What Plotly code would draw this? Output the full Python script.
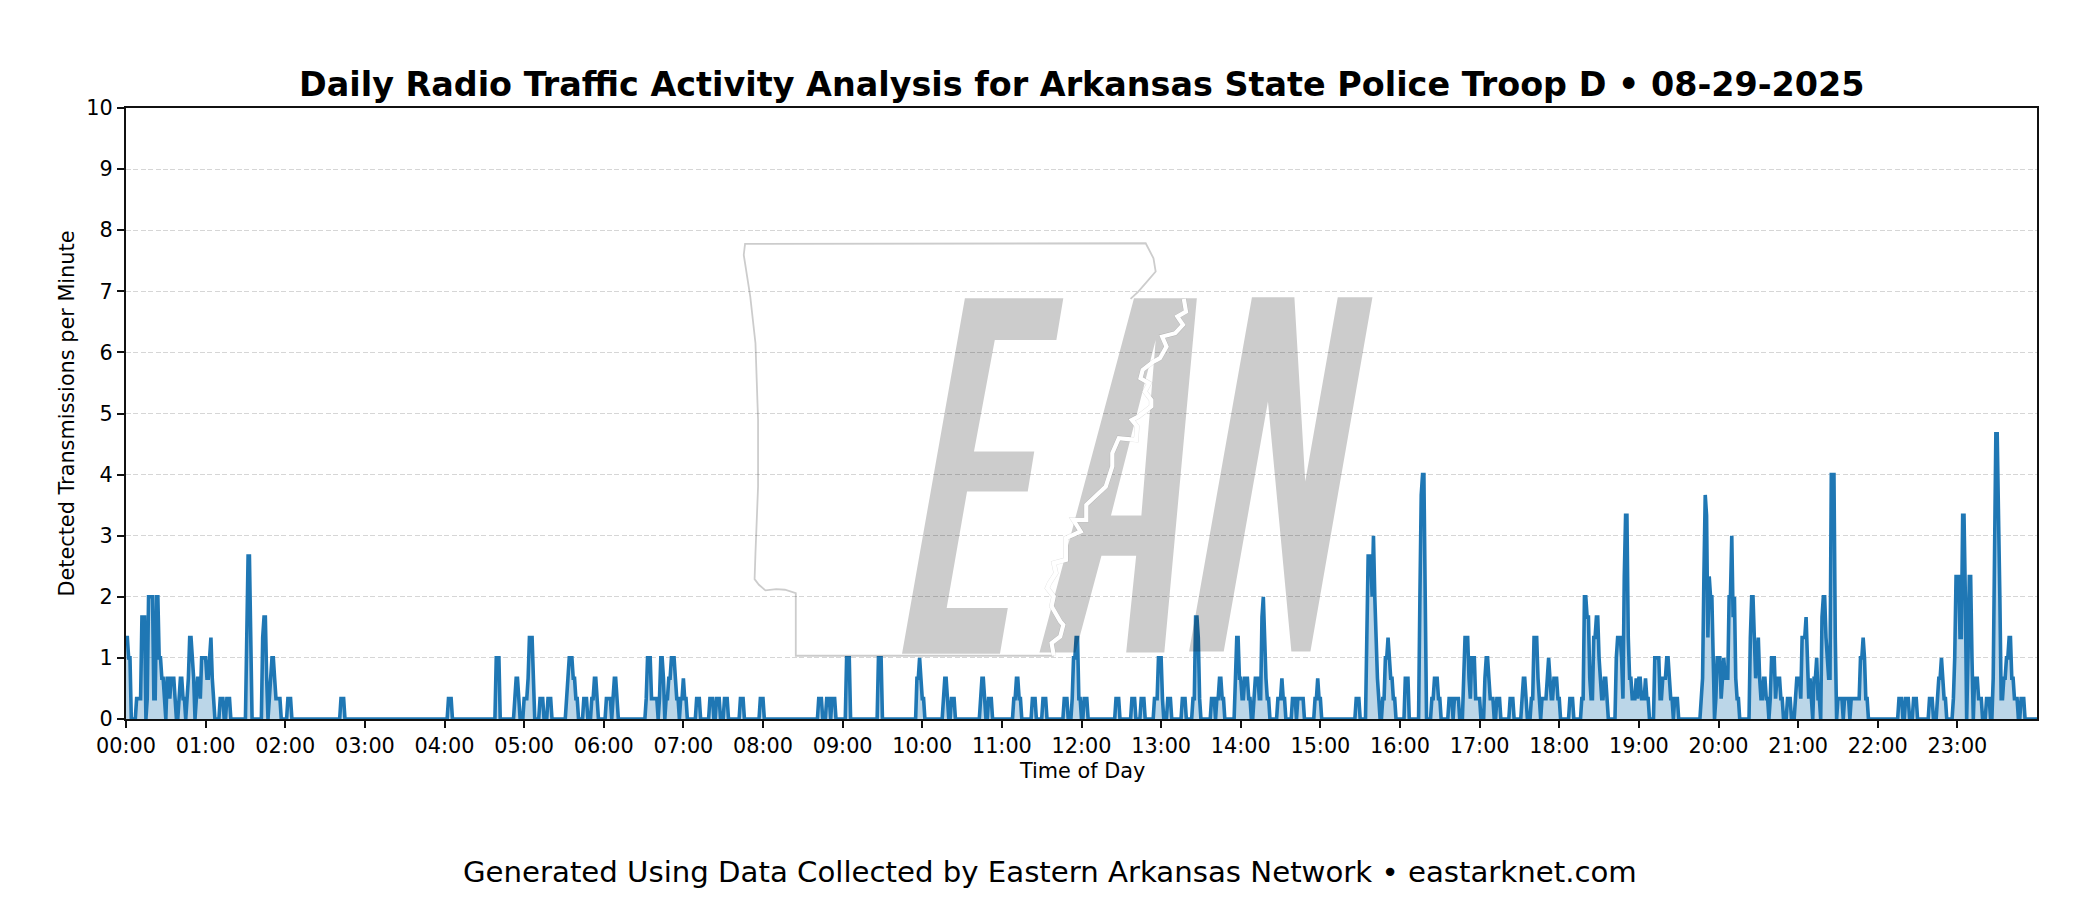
import plotly.graph_objects as go

TITLE = "Daily Radio Traffic Activity Analysis for Arkansas State Police Troop D • 08-29-2025"
FOOTER = "Generated Using Data Collected by Eastern Arkansas Network • eastarknet.com"
X_LABEL = "Time of Day"
Y_LABEL = "Detected Transmissions per Minute"
tick_hours = list(range(24))
y_ticks = list(range(11))

# Active stretches of the day: first minute of each stretch, and the rate during it in thirds of a transmission per minute.
run_start = [0, 8, 16, 31, 40, 46, 53, 71, 76, 91, 103, 108, 122, 162, 243, 279, 293, 300, 312, 318,
             332, 345, 351, 362, 367, 392, 402, 407, 418, 430, 440, 445, 451, 463, 478, 522, 528, 532,
             543, 567, 596, 616, 622, 644, 650, 669, 683, 691, 707, 713, 722, 746, 758, 765, 775, 785,
             796, 804, 818, 822, 836, 850, 868, 879, 883, 896, 927, 935, 947, 964, 975, 984, 997, 1001,
             1008, 1024, 1033, 1043, 1052, 1059, 1067, 1088, 1097, 1123, 1152, 1167, 1187, 1198, 1224,
             1239, 1252, 1258, 1272, 1278, 1290, 1295, 1300, 1336, 1341, 1347, 1359, 1365, 1377, 1388,
             1393, 1402, 1407, 1428]
run_thirds = [
    [4,4,3,3], [1,1,1,1,5,5,5], [1,6,6,6,6,1,1,6,6,3,3,2,2,1], [2,2,1,2,2,2,1], [1,2,2,1,1], [1,2,4,4,3,2],
    [1,2,2,1,3,3,3,3,2,2,3,4,2,1], [1,1,1], [1,1,1], [4,8,8,4], [4,5,5,2], [1,2,3,3,2,1,1,1,1], [1,1,1], [1,1,1],
    [1,1,1], [3,3,3], [1,2,2,1], [1,1,1,2,4,4,4,2], [1,1,1], [1,1,1],
    [1,2,3,3,3,2,2,1,1], [1,1,1], [1,1,2,2,1], [1,1,1,1], [1,2,2,1], [1,3,3,3,1,1,1,1,1], [1,3,3,2],
    [1,1,2,2,3,3,3,2,1,1], [1,1,2,1,1], [1,1,1], [1,1,1], [1,1,1], [1,1,1], [1,1,1], [1,1,1], [1,1,1], [1,1,1], [1,1,1],
    [3,3,3], [3,3,3], [2,2,3,2,1,1], [1,2,2,1], [1,1,1], [1,2,2,1], [1,1,1], [1,1,2,2,1,1], [1,1,1], [1,1,1], [1,1,1],
    [1,3,3,4,4,1,1], [1,1,1], [1,1,1], [1,1,1], [1,1,1], [1,1,1,3,3,3,1], [1,1,1],
    [1,1,1], [1,1,5,5,4,1], [1,1,1], [1,1,2,2,1,1], [2,4,4,2,2,1,1,2,2,2,1,1], [1,2,2,2,1,1,5,6,4,2,1,1],
    [1,1,1,2,1,1], [1,1,1], [1,1,1,1,1], [1,1,2,1,1], [1,1,1], [4,8,8,8,6,9,6,4,2,1], [1,1,3,3,4,3,2,2,1,1],
    [2,2,2], [6,11,12,12,6], [1,1,2,2,2,1,1], [1,1,1], [1,1,1,1],
    [2,4,4,4,2,1,3,3,3,1,1,1,1], [2,3,3,2,1,1,1], [1,1,1], [1,1,1], [1,2,2,1], [1,1,4,4,4,2,1],
    [1,1,1,1,2,3,2,1,1,2,2,2,1,1], [1,1,1], [1,1,6,6,5,5,2,1,1,4,4,5,5,3,2,1,1,2,2,1],
    [3,4,4,4,3,1,7,10,10,4,2,2,1,1,1,2,1,2,2,1,1,1,2,1,1], [3,3,3,3,1,1,2,2,2,3,3,2,1,1], [1,1,1],
    [1,2,7,11,10,4,7,6,6,3], [1,3,3,3,1,2,3,2,2,2,6,6,9,5,6,2,1,1], [4,6,6,4,2,3,4,2,1,1,2,2,1,1],
    [1,3,3,3,1,2,2,2,1,1], [1,1,1], [1,2,2,2,1,4,4,4,5,3,1,2,1], [2,2,3,1,1], [5,6,6,4,3,2,2,12,12,12,4],
    [1,1,1,1], [1,1,1,1], [1,1,1,1,1,1,1,3,3,4,3,1,1], [1,1,1], [1,1,1], [1,1,1], [1,1,1], [1,2,2,3,2,1,1],
    [1,3,7,7,7,4,4,10,10,6], [3,7,7,3], [2,2,2,1,1,1], [1,1,1], [2,8,14,14,10,6,1,1,2,2,3,3,4,4,2,2,1,1,1], [1,1,1],
]
MINUTES_IN_DAY = 1440

minutes = list(range(MINUTES_IN_DAY + 1))
rate = [0.0] * len(minutes)
for start, thirds in zip(run_start, run_thirds):
    for i, v in enumerate(thirds):
        rate[start + i] = v / 3

# Page body margin shifts the figure by 8 px; layout is given in page pixels.
PAGE = 8
LEFT, RIGHT, TOP, BOTTOM = 126, 2037.3, 108, 719.3
W, H = 2100, 900


def pt(zx, zy):
    px = 720 + zx / 2.306
    py = 220 + zy / 3
    return (px - LEFT) / (RIGHT - LEFT), (BOTTOM - py) / (BOTTOM - TOP)


def path(points, close=True):
    coords = [pt(*p) for p in points]
    s = "M " + " L ".join(f"{x:.5f},{y:.5f}" for x, y in coords)
    return s + (" Z" if close else "")


letter_e = [(420,1302),(565,235),(792,235),(776,360),(634,360),(586,695),(725,695),(710,815),(570,815),(523,1165),(664,1165),(646,1302)]
letter_a = [(737,1298),(955,235),(1100,235),(1025,1298),(937,1298),(960,1008),(880,1008),(820,1298)]
letter_a_hole = [(1005,360),(972,887),(902,887)]
letter_n = [(1082,1295),(1227,232),(1325,232),(1350,785),(1425,232),(1505,232),(1362,1295),(1318,1295),(1264,545),(1162,1295)]
state_west = [(770,1308),(175,1308),(175,1120),(150,1110),(130,1108),(105,1112),(90,1095),(80,1078),(82,1000),(88,800),(88,600),(82,370),(70,230),(55,105),(58,72),(982,70),(1000,115),(1005,155),(985,185),(965,215),(947,237)]
state_east = [(1070,237),(1075,275),(1055,290),(1068,315),(1050,340),(1020,350),(1030,380),(1015,415),(1000,425),(975,450),(970,475),(990,490),(980,515),(995,540),(995,560),(965,590),(950,600),(962,620),(960,660),(920,655),(905,700),(905,740),(890,800),(845,855),(845,900),(815,900),(832,935),(798,955),(798,1020),(770,1030),(775,1060),(760,1090),(755,1105),(770,1130),(765,1160),(785,1205),(792,1215),(785,1250),(765,1270),(770,1308)]

GREY = "rgba(0,0,0,0.2)"
shapes = []
for p in [path(letter_e), path(letter_a) + " " + path(letter_a_hole), path(letter_n)]:
    shapes.append(dict(type="path", xref="paper", yref="paper", path=p, fillcolor=GREY, line=dict(width=0), layer="above"))
shapes.append(dict(type="path", xref="paper", yref="paper", path=path(state_west, False), line=dict(color=GREY, width=1.8), fillcolor="rgba(0,0,0,0)", layer="above"))
shapes.append(dict(type="path", xref="paper", yref="paper", path=path(state_east, False), line=dict(color="rgba(0,0,0,0.12)", width=5), fillcolor="rgba(0,0,0,0)", layer="above"))
shapes.append(dict(type="path", xref="paper", yref="paper", path=path(state_east, False), line=dict(color="white", width=4.2), fillcolor="rgba(0,0,0,0)", layer="above"))

fig = go.Figure()
fig.add_trace(go.Scatter(
    x=minutes, y=rate, mode="lines",
    line=dict(color="#1f77b4", width=3.6, simplify=False),
    fill="tozeroy", fillcolor="rgba(31,119,180,0.3)",
    hoverinfo="skip", showlegend=False,
))

FONT = "DejaVu Sans"
fig.update_layout(
    width=W, height=H, autosize=False,
    paper_bgcolor="white", plot_bgcolor="white",
    font=dict(family=FONT, color="black", size=20.8),
    margin=dict(l=LEFT - PAGE, r=W - RIGHT + PAGE, t=TOP - PAGE, b=H - BOTTOM + PAGE, autoexpand=False, pad=0),
    shapes=shapes,
    annotations=[
        dict(text=f"<b>{TITLE}</b>", xref="paper", yref="paper", x=0.5, y=(BOTTOM - 84) / (BOTTOM - TOP),
             xanchor="center", yanchor="middle", showarrow=False, font=dict(size=33.4)),
        dict(text=X_LABEL, xref="paper", yref="paper", x=0.5, y=(BOTTOM - 771) / (BOTTOM - TOP),
             xanchor="center", yanchor="middle", showarrow=False, font=dict(size=20.8)),
        dict(text=Y_LABEL, xref="paper", yref="paper", x=(66 - LEFT) / (RIGHT - LEFT), y=0.5, textangle=-90,
             xanchor="center", yanchor="middle", showarrow=False, font=dict(size=20.8)),
        dict(text=FOOTER, xref="paper", yref="paper", x=(1050 - LEFT) / (RIGHT - LEFT), y=(BOTTOM - 872) / (BOTTOM - TOP),
             xanchor="center", yanchor="middle", showarrow=False, font=dict(size=29.2)),
    ],
    xaxis=dict(
        range=[0, MINUTES_IN_DAY], tickmode="array",
        tickvals=[h * 60 for h in tick_hours], ticktext=[f"{h:02d}:00" for h in tick_hours],
        showgrid=False, zeroline=False, showline=True, mirror=True, linecolor="#111111", linewidth=2,
        ticks="outside", ticklen=7, tickwidth=2, tickcolor="#111111", tickangle=0, tickfont=dict(size=20.8),
    ),
    yaxis=dict(
        range=[0, 10], tickmode="array", tickvals=y_ticks, ticktext=[str(v) for v in y_ticks],
        showgrid=True, gridcolor="#d6d6d6", griddash="5px,2.4px", gridwidth=1,
        zeroline=False, showline=True, mirror=True, linecolor="#111111", linewidth=2,
        ticks="outside", ticklen=7, tickwidth=2, tickcolor="#111111", tickfont=dict(size=20.8),
    ),
)
fig.write_html("out.html")
